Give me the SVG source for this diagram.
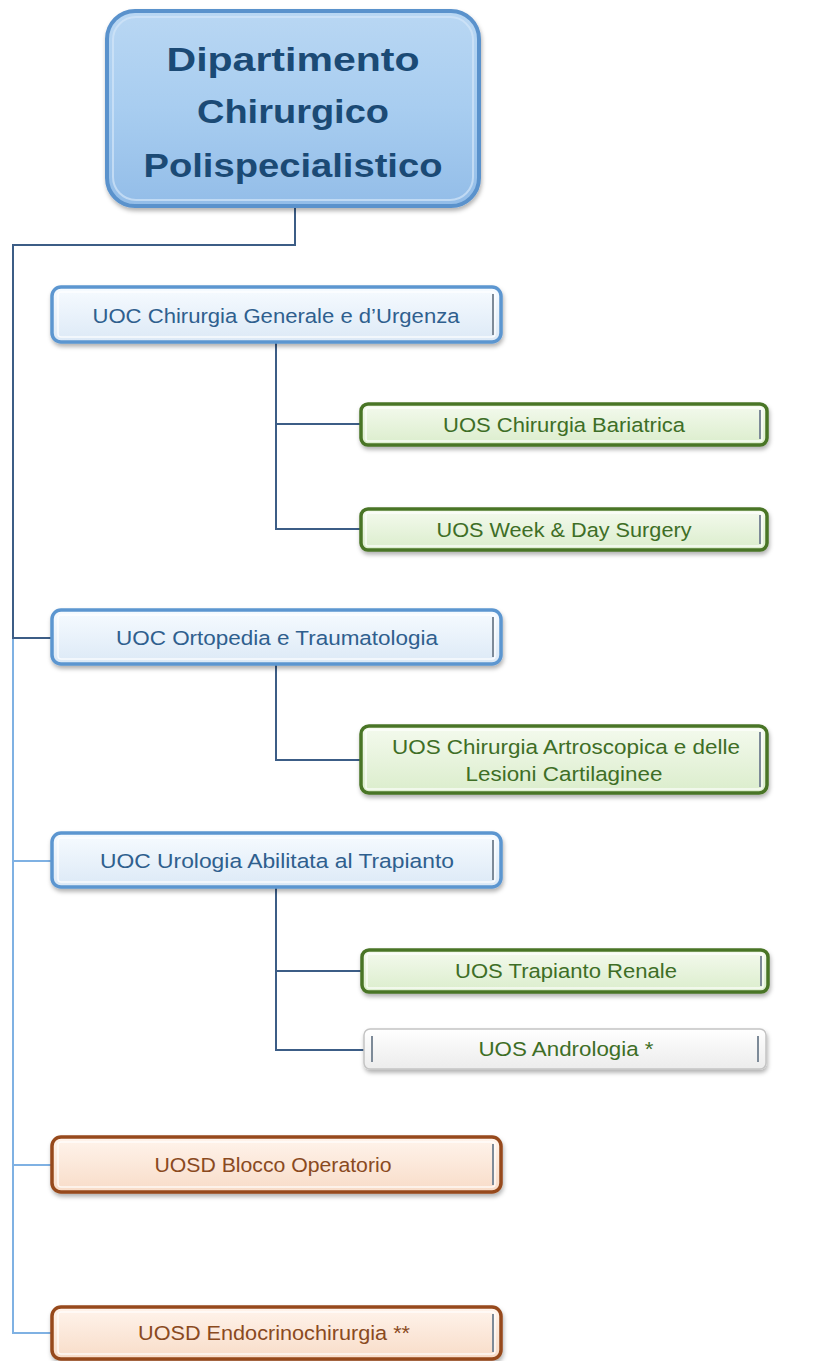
<svg xmlns="http://www.w3.org/2000/svg" width="833" height="1361" viewBox="0 0 833 1361">
<defs>
<linearGradient id="gTop" x1="0" y1="0" x2="0" y2="1">
<stop offset="0" stop-color="#b9d7f3"/><stop offset="0.5" stop-color="#a8cdf0"/><stop offset="1" stop-color="#93bde8"/>
</linearGradient>
<linearGradient id="gBlue" x1="0" y1="0" x2="0" y2="1">
<stop offset="0" stop-color="#f7fbff"/><stop offset="1" stop-color="#dce9f6"/>
</linearGradient>
<linearGradient id="gGreen" x1="0" y1="0" x2="0" y2="1">
<stop offset="0" stop-color="#f4faee"/><stop offset="1" stop-color="#dbedcc"/>
</linearGradient>
<linearGradient id="gWhite" x1="0" y1="0" x2="0" y2="1">
<stop offset="0" stop-color="#ffffff"/><stop offset="1" stop-color="#ececec"/>
</linearGradient>
<linearGradient id="gOrange" x1="0" y1="0" x2="0" y2="1">
<stop offset="0" stop-color="#fff4ec"/><stop offset="1" stop-color="#f8dcc8"/>
</linearGradient>
<filter id="sh" x="-10%" y="-20%" width="120%" height="150%">
<feDropShadow dx="1" dy="3" stdDeviation="2" flood-color="#000" flood-opacity="0.3"/>
</filter>
</defs>
<style>
text{font-family:"Liberation Sans",Arial,sans-serif;text-anchor:middle}
.title{font-size:34px;font-weight:bold;fill:#1b4a75}
.lbl{font-size:20.5px}
.tb{fill:#2f5f8e}
.tg{fill:#3e6e26}
.to{fill:#8a4a1e}
.bb{fill:url(#gBlue);stroke:#5c96d0;stroke-width:3.5}
.bg{fill:url(#gGreen);stroke:#4a7526;stroke-width:3.5}
.bw{fill:url(#gWhite);stroke:#c4c4c4;stroke-width:1.5}
.bo{fill:url(#gOrange);stroke:#96481a;stroke-width:3.5}
.in{fill:none;stroke:#ffffff;stroke-width:1.5;opacity:0.8}
.edge{fill:none;stroke:#7d8a98;stroke-width:2}
.cd{fill:none;stroke:#3c5d86;stroke-width:2}
.cl{fill:none;stroke:#7fb1e3;stroke-width:2}
</style>
<rect width="833" height="1361" fill="#ffffff"/>
<g id="connectors">
<path class="cl" d="M13,638 V1333 H52 M13,861 H52 M13,1165 H52"/>
<path class="cd" d="M295,207 V245 H13 V638 H52"/>
<path class="cd" d="M276,342 V529 H361 M276,424 H361"/>
<path class="cd" d="M276,664 V760 H361"/>
<path class="cd" d="M276,887 V1050 H364 M276,971 H362"/>
</g>
<g id="dipartimento">
<rect x="107" y="11" width="372" height="195" rx="28" fill="url(#gTop)" stroke="#5a92cc" stroke-width="4" filter="url(#sh)"/>
<rect x="113" y="17" width="360" height="183" rx="23" fill="none" stroke="#d3e6f8" stroke-width="2" opacity="0.7"/>
<text class="title" x="293" y="71" textLength="253" lengthAdjust="spacingAndGlyphs">Dipartimento</text>
<text class="title" x="293" y="123" textLength="192" lengthAdjust="spacingAndGlyphs">Chirurgico</text>
<text class="title" x="293" y="177" textLength="299" lengthAdjust="spacingAndGlyphs">Polispecialistico</text>
</g>
<g id="uoc-chirurgia">
<rect class="bb" x="52" y="287" width="449" height="55" rx="9" filter="url(#sh)"/>
<rect class="in" x="58" y="292" width="437" height="45" rx="3"/>
<path class="edge" d="M493,294 V335"/>
<text class="lbl tb" x="276" y="323" textLength="367" lengthAdjust="spacingAndGlyphs">UOC Chirurgia Generale e d’Urgenza</text>
</g>
<g id="uos-bariatrica">
<rect class="bg" x="361" y="404" width="406" height="41" rx="7" filter="url(#sh)"/>
<rect class="in" x="366" y="408" width="396" height="33" rx="2"/>
<path class="edge" d="M760,410 V439"/>
<text class="lbl tg" x="564" y="432" textLength="242" lengthAdjust="spacingAndGlyphs">UOS Chirurgia Bariatrica</text>
</g>
<g id="uos-week-day">
<rect class="bg" x="361" y="509" width="406" height="41" rx="7" filter="url(#sh)"/>
<rect class="in" x="366" y="513" width="396" height="33" rx="2"/>
<path class="edge" d="M760,515 V544"/>
<text class="lbl tg" x="564" y="537" textLength="255" lengthAdjust="spacingAndGlyphs">UOS Week &amp; Day Surgery</text>
</g>
<g id="uoc-ortopedia">
<rect class="bb" x="52" y="610" width="449" height="54" rx="9" filter="url(#sh)"/>
<rect class="in" x="58" y="615" width="437" height="44" rx="3"/>
<path class="edge" d="M493,617 V657"/>
<text class="lbl tb" x="277" y="645" textLength="322" lengthAdjust="spacingAndGlyphs">UOC Ortopedia e Traumatologia</text>
</g>
<g id="uos-artroscopica">
<rect class="bg" x="361" y="726" width="406" height="67" rx="8" filter="url(#sh)"/>
<rect class="in" x="366" y="730" width="396" height="59" rx="2"/>
<path class="edge" d="M760,732 V787"/>
<text class="lbl tg" x="566" y="754" textLength="348" lengthAdjust="spacingAndGlyphs">UOS Chirurgia Artroscopica e delle</text>
<text class="lbl tg" x="564" y="781" textLength="197" lengthAdjust="spacingAndGlyphs">Lesioni Cartilaginee</text>
</g>
<g id="uoc-urologia">
<rect class="bb" x="52" y="833" width="449" height="54" rx="9" filter="url(#sh)"/>
<rect class="in" x="58" y="838" width="437" height="44" rx="3"/>
<path class="edge" d="M493,840 V880"/>
<text class="lbl tb" x="277" y="868" textLength="354" lengthAdjust="spacingAndGlyphs">UOC Urologia Abilitata al Trapianto</text>
</g>
<g id="uos-trapianto">
<rect class="bg" x="362" y="950" width="406" height="42" rx="7" filter="url(#sh)"/>
<rect class="in" x="367" y="954" width="396" height="34" rx="2"/>
<path class="edge" d="M761,956 V986"/>
<text class="lbl tg" x="566" y="978" textLength="222" lengthAdjust="spacingAndGlyphs">UOS Trapianto Renale</text>
</g>
<g id="uos-andrologia">
<rect class="bw" x="364" y="1029" width="402" height="40" rx="6" filter="url(#sh)"/>
<path class="edge" d="M372,1036 V1062 M758,1036 V1062" stroke="#8a8a8a"/>
<text class="lbl tg" x="566" y="1056" textLength="175" lengthAdjust="spacingAndGlyphs">UOS Andrologia *</text>
</g>
<g id="uosd-blocco">
<rect class="bo" x="52" y="1137" width="449" height="55" rx="9" filter="url(#sh)"/>
<rect class="in" x="58" y="1142" width="437" height="45" rx="3"/>
<path class="edge" d="M493,1144 V1185"/>
<text class="lbl to" x="273" y="1172" textLength="237" lengthAdjust="spacingAndGlyphs">UOSD Blocco Operatorio</text>
</g>
<g id="uosd-endocrino">
<rect class="bo" x="52" y="1307" width="449" height="52" rx="9" filter="url(#sh)"/>
<rect class="in" x="58" y="1312" width="437" height="42" rx="3"/>
<path class="edge" d="M493,1314 V1352"/>
<text class="lbl to" x="274" y="1340" textLength="272" lengthAdjust="spacingAndGlyphs">UOSD Endocrinochirurgia **</text>
</g>
</svg>
